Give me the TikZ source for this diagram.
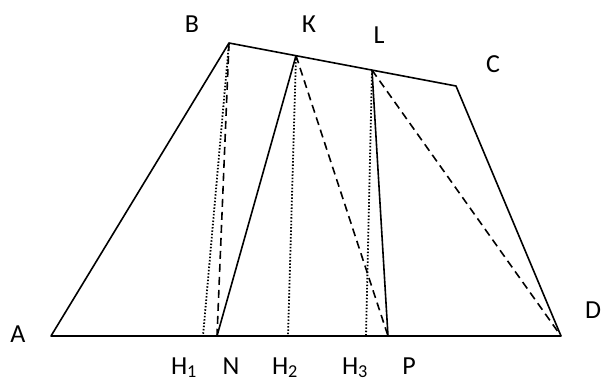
\documentclass[tikz,border=0pt]{standalone}
\usepackage{fontspec}
\setmainfont{Carlito}
\usetikzlibrary{positioning}

\begin{document}
\begin{tikzpicture}[x=1pt,y=-1pt,
    every node/.style={font=\fontsize{26}{30}\selectfont,inner sep=0pt,anchor=base},
    side/.style={line width=1.6pt},
    height/.style={line width=1.8pt,dash pattern=on 1.5pt off 1.8pt},
    diag/.style={line width=1.6pt,dash pattern=on 8pt off 5pt}]
    \useasboundingbox (0,0) rectangle (602,383);
    % vertices of the trapezoid
    \coordinate (A) at (51,336);
    \coordinate (D) at (561,336);
    \coordinate (B) at (229,43);
    \coordinate (C) at (456,86);
    \coordinate (K) at (296,55.6);
    \coordinate (L) at (372,70.1);
    % points on AD
    \coordinate (H1) at (203,336);
    \coordinate (N) at (217,336);
    \coordinate (H2) at (288,336);
    \coordinate (H3) at (366,336);
    \coordinate (P) at (388,336);

    % labels
    \node (lA) at (18,342) {A};
    \node (lB) at (192,32) {B};
    \node (lK) at (309,32) {К};
    \node (lL) at (379,43) {L};
    \node (lC) at (493,72) {C};
    \node (lD) at (593,318) {D};
    \node (lH1) at (184,374) {H\textsubscript{1}};
    \node (lN) at (231,374) {N};
    \node (lH2) at (285,374) {H\textsubscript{2}};
    \node (lH3) at (355,374) {H\textsubscript{3}};
    \node (lP) at (409,374) {P};

    \draw[side,line join=round] (A) -- (B) -- (C) -- (D) -- cycle;
    \draw[side] (N) -- (K);
    \draw[side] (P) -- (L);

    \draw[height] (B) -- (H1);
    \draw[height] (K) -- (H2);
    \draw[height] (L) -- (H3);

    \draw[diag] (B) -- (N);
    \draw[diag] (K) -- (P);
    \draw[diag] (L) -- (D);
\end{tikzpicture}
\end{document}
